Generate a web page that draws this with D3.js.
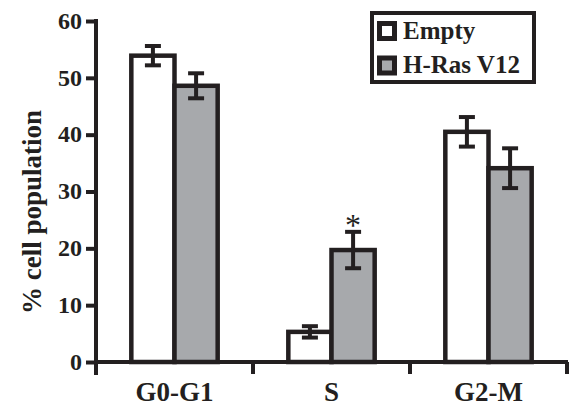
<!DOCTYPE html>
<html>
<head>
<meta charset="utf-8">
<script src="https://cdn.jsdelivr.net/npm/d3@7"></script>
<style>
  html, body { margin: 0; padding: 0; background: #fff; }
  svg { display: block; }
  text { font-family: "Liberation Serif", "Times New Roman", serif; font-weight: bold; fill: #231f20; }
</style>
</head>
<body>
<script>
const categories = ["G0-G1", "S", "G2-M"];
const seriesNames = ["Empty", "H-Ras V12"];
const emptyValues = [53.9, 5.3, 40.5];
const emptyErrors = [1.7, 1.0, 2.6];
const rasValues = [48.6, 19.7, 34.1];
const rasErrors = [2.2, 3.2, 3.5];
const yTicks = [0, 10, 20, 30, 40, 50, 60];
const significant = [false, true, false];

const W = 575, H = 406;
const ink = "#231f20", grayFill = "#a7a9ac";
const svg = d3.select("body").append("svg").attr("width", W).attr("height", H);

const y = d3.scaleLinear().domain([0, 60]).range([362, 21]);
const x = d3.scaleBand().domain(categories).range([96, 567]).padding(0);
const barW = x.bandwidth() * 0.275;

const series = [
  { name: seriesNames[0], values: emptyValues, errors: emptyErrors, fill: "#ffffff" },
  { name: seriesNames[1], values: rasValues, errors: rasErrors, fill: grayFill }
];

// Bars
series.forEach((s, si) => {
  const g = svg.append("g");
  g.selectAll("rect").data(categories).join("rect")
    .attr("x", c => x(c) + x.bandwidth() / 2 - barW + si * barW)
    .attr("y", (c, i) => y(s.values[i]))
    .attr("width", barW)
    .attr("height", (c, i) => y(0) - y(s.values[i]))
    .attr("fill", s.fill)
    .attr("stroke", ink)
    .attr("stroke-width", 4.5);
});

// Error bars
series.forEach((s, si) => {
  const g = svg.append("g").attr("stroke", ink).attr("stroke-width", 4);
  categories.forEach((c, i) => {
    const cx = x(c) + x.bandwidth() / 2 - barW / 2 + si * barW;
    const top = y(s.values[i] + s.errors[i]);
    const bot = y(s.values[i] - s.errors[i]);
    g.append("line").attr("x1", cx).attr("x2", cx).attr("y1", top).attr("y2", bot);
    g.append("line").attr("x1", cx - 8).attr("x2", cx + 8).attr("y1", top).attr("y2", top);
    g.append("line").attr("x1", cx - 8).attr("x2", cx + 8).attr("y1", bot).attr("y2", bot);
  });
});

// Significance asterisk
categories.forEach((c, i) => {
  if (!significant[i]) return;
  const cx = x(c) + x.bandwidth() / 2 + barW / 2;
  svg.append("text").attr("x", cx).attr("y", y(rasValues[i] + rasErrors[i]) + 4)
    .attr("text-anchor", "middle").attr("font-size", 32).style("font-weight", "normal")
    .text("*");
});

// Y axis
const yAxis = svg.append("g").attr("transform", "translate(96,0)")
  .call(d3.axisLeft(y).tickValues(yTicks).tickSize(10).tickPadding(4).tickFormat(d3.format("d")));
yAxis.select(".domain").remove();
yAxis.selectAll(".tick line").attr("stroke", ink).attr("stroke-width", 4);
yAxis.selectAll(".tick text").attr("font-size", 24).attr("dy", "0.3em");
svg.append("line").attr("x1", 96).attr("x2", 96).attr("y1", y(60) - 2).attr("y2", 375)
  .attr("stroke", ink).attr("stroke-width", 4);

// X axis
const xAxis = svg.append("g").attr("transform", "translate(0,362)")
  .call(d3.axisBottom(x).tickSize(0).tickPadding(20));
xAxis.select(".domain").remove();
xAxis.selectAll(".tick text").attr("font-size", 27).attr("dy", "0.71em");
svg.append("line").attr("x1", 94).attr("x2", 568).attr("y1", 362).attr("y2", 362)
  .attr("stroke", ink).attr("stroke-width", 4);
const boundaries = categories.map(c => x(c)).concat([x(categories[categories.length - 1]) + x.bandwidth()]);
svg.append("g").selectAll("line").data(boundaries.slice(1)).join("line")
  .attr("x1", d => d).attr("x2", d => d).attr("y1", 362).attr("y2", 374)
  .attr("stroke", ink).attr("stroke-width", 4);

// Y title
svg.append("text")
  .attr("transform", "translate(41,212) rotate(-90)")
  .attr("text-anchor", "middle").attr("font-size", 27)
  .text("% cell population");

// Legend
const lg = svg.append("g");
lg.append("rect").attr("x", 372).attr("y", 13).attr("width", 162).attr("height", 69)
  .attr("fill", "#fff").attr("stroke", ink).attr("stroke-width", 4);
series.forEach((s, i) => {
  const yy = 23.5 + i * 34.5;
  lg.append("rect").attr("x", 379.5).attr("y", yy).attr("width", 15).attr("height", 15)
    .attr("fill", s.fill).attr("stroke", ink).attr("stroke-width", 5);
  lg.append("text").attr("x", 403).attr("y", yy + 15).attr("font-size", 25).text(s.name);
});
</script>
</body>
</html>
